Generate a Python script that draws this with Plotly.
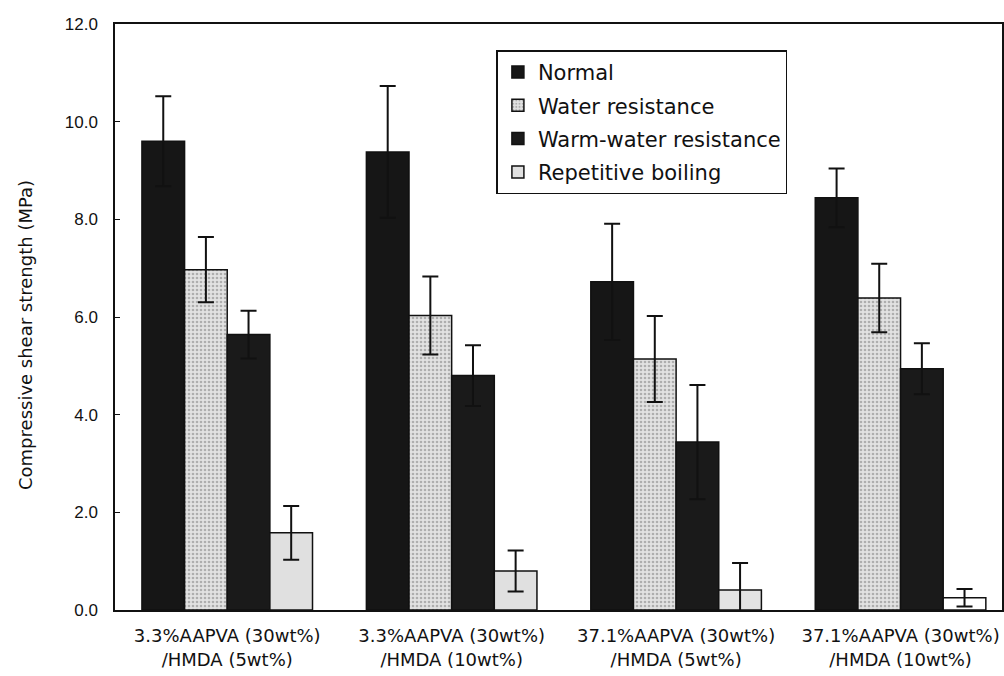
import plotly.graph_objects as go

# Sample formulations (x categories)
categories = [
    "3.3%AAPVA (30wt%)<br>/HMDA (5wt%)",
    "3.3%AAPVA (30wt%)<br>/HMDA (10wt%)",
    "37.1%AAPVA (30wt%)<br>/HMDA (5wt%)",
    "37.1%AAPVA (30wt%)<br>/HMDA (10wt%)",
]

# Compressive shear strength (MPa) and standard deviations per test condition
normal = [9.60, 9.38, 6.72, 8.44]
normal_sd = [0.92, 1.35, 1.19, 0.60]

water = [6.97, 6.03, 5.14, 6.39]
water_sd = [0.67, 0.80, 0.88, 0.70]

warm_water = [5.64, 4.80, 3.44, 4.94]
warm_water_sd = [0.49, 0.62, 1.17, 0.52]

boiling = [1.58, 0.80, 0.41, 0.25]
boiling_sd = [0.55, 0.42, 0.55, 0.18]

y_ticks = [0, 2, 4, 6, 8, 10, 12]
y_title = "Compressive shear strength (MPa)"

series = [
    ("Normal", normal, normal_sd, dict(color="#161616")),
    ("Water resistance", water, water_sd,
     dict(color="#d4d4d4",
          pattern=dict(shape=".", fgcolor="#7a7a7a", bgcolor="#e2e2e2",
                       size=4, solidity=0.35))),
    ("Warm-water resistance", warm_water, warm_water_sd, dict(color="#1a1a1a")),
    ("Repetitive boiling", boiling, boiling_sd,
     dict(color=["#e0e0e0", "#e0e0e0", "#e3e3e3", "#ffffff"])),
]

fig = go.Figure()
for i, (name, vals, sd, mk) in enumerate(series):
    mk = dict(mk)
    mk["line"] = dict(color="#111111", width=1.5)
    fig.add_trace(go.Bar(
        name=name,
        x=categories,
        y=vals,
        marker=mk,
        legendgroup=f"g{i}",
        error_y=dict(type="data", array=sd, visible=True,
                     color="#111111", thickness=2, width=8),
    ))

font_main = "Liberation Sans, Arial, sans-serif"
font_wide = "DejaVu Sans, Verdana, sans-serif"

# Vertical axis title placed to the far left of the tick labels
fig.add_annotation(
    text=y_title, textangle=-90,
    xref="paper", yref="paper", x=-0.101, y=0.47,
    xanchor="center", yanchor="middle", showarrow=False,
    font=dict(family=font_wide, size=18, color="#111111"),
)

fig.update_layout(
    width=1004,
    height=676,
    margin=dict(l=115, r=0, t=24, b=66),
    paper_bgcolor="white",
    plot_bgcolor="white",
    barmode="group",
    bargap=0.24,
    bargroupgap=0,
    font=dict(family=font_main, size=16, color="#111111"),
    legend=dict(
        x=0.43, y=0.955, xanchor="left", yanchor="top",
        bgcolor="white",
        bordercolor="#111111", borderwidth=1.5,
        font=dict(family=font_wide, size=21, color="#111111"),
        traceorder="grouped",
        tracegroupgap=3,
        itemwidth=30,
    ),
    xaxis=dict(
        range=[-0.5, 3.452],
        showline=True, linecolor="#111111", linewidth=1.5,
        mirror=True,
        ticks="",
        ticklabelstandoff=9,
        tickfont=dict(family=font_wide, size=18, color="#111111"),
        showgrid=False,
    ),
    yaxis=dict(
        range=[0, 12],
        tickvals=y_ticks,
        tickformat=".1f",
        ticks="inside", ticklen=5, tickcolor="#111111",
        showline=True, linecolor="#111111", linewidth=1.5,
        mirror=True,
        showgrid=False,
        zeroline=False,
        ticklabelstandoff=12,
        tickfont=dict(family=font_main, size=17, color="#111111"),
    ),
)

fig.write_html("out.html")
